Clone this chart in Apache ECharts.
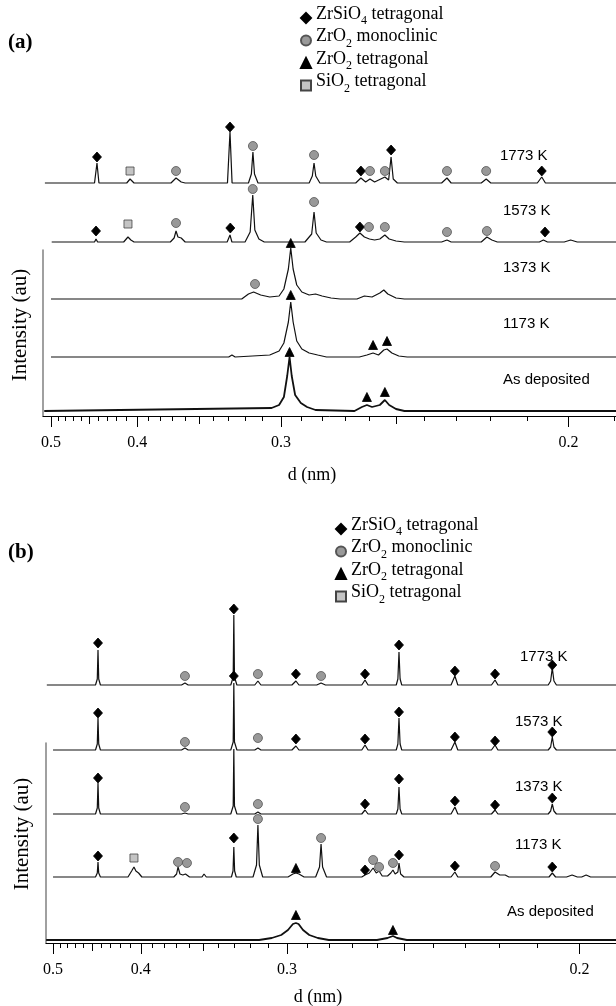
<!DOCTYPE html>
<html>
<head>
<meta charset="utf-8">
<script src="https://cdn.jsdelivr.net/npm/echarts@6/dist/echarts.min.js"></script>
<style>
    html, body {margin:0;padding:0;background:#fff;}
    #chart {width:616px;height:1006px;}
</style>
</head>
<body>
<div id="chart"></div>
<script>
    // d (nm) ticks along the bottom axis
    var majorTicksD = [0.5, 0.4, 0.3, 0.2];
    var mediumTicksD = [0.45, 0.35, 0.25];
    var minorTicksD = [0.49, 0.48, 0.47, 0.46, 0.44, 0.43, 0.42, 0.41,
        0.39, 0.38, 0.37, 0.36, 0.34, 0.33, 0.32, 0.31,
        0.29, 0.28, 0.27, 0.26, 0.24, 0.23, 0.22, 0.21, 0.19];

    var traceNames = ['1773 K', '1573 K', '1373 K', '1173 K', 'As deposited'];
    var phaseNames = ['ZrSiO4 tetragonal', 'ZrO2 monoclinic', 'ZrO2 tetragonal', 'SiO2 tetragonal'];

    // stacking offsets of each pattern (au)
    var offsetsA = [233, 174, 117, 59, 5];
    var offsetsB = [258, 193, 129, 66, 3];

    // ---- panel (a): [d nm, intensity au] ----
    var a1773 = [[0.509,0],[0.4440,0],[0.4412,20],[0.4390,0],
        [0.4100,0],[0.4068,4],[0.4030,0],
        [0.3710,0],[0.3670,5],[0.3630,1],[0.3600,0],
        [0.3308,0],[0.3292,51],[0.3279,0],
        [0.3180,0],[0.3163,9],[0.3154,31],[0.3145,9],[0.3125,0],
        [0.2860,0],[0.2845,7],[0.2837,20],[0.2829,7],[0.2810,0],
        [0.2655,0],[0.2634,5],[0.2615,1],[0.2598,4],[0.2580,1],[0.2541,6],[0.2527,3],[0.2518,26],[0.2510,4],[0.2495,0],
        [0.2345,0],[0.2328,5],[0.2315,0],
        [0.2225,0],[0.2211,4],[0.2198,0],
        [0.2075,0],[0.2064,6],[0.2055,0],
        [0.185,0]];
    var a1573 = [[0.499,0],[0.4440,0],[0.4423,3],[0.4405,0],
        [0.4130,0],[0.4088,5],[0.4060,2],[0.4030,0],
        [0.3715,0],[0.3685,4],[0.3670,11],[0.3655,5],[0.3630,4],[0.3600,0],
        [0.3310,0],[0.3292,7],[0.3280,0],
        [0.3200,0],[0.3170,10],[0.3155,47],[0.3143,12],[0.3120,3],[0.3090,0],
        [0.2880,0],[0.2848,8],[0.2837,30],[0.2827,9],[0.2805,2],[0.2780,0],
        [0.2680,0],[0.2655,5],[0.2638,9],[0.2620,5],[0.2600,3],[0.2580,2],[0.2560,3],[0.2541,7],[0.2525,3],[0.2500,1],[0.2470,0],
        [0.2345,0],[0.2328,2],[0.2315,0],
        [0.2225,0],[0.2209,5],[0.2195,2],[0.2180,0],
        [0.2070,0],[0.2060,2],[0.2050,0],
        [0.2010,0],[0.1995,2],[0.1980,0],
        [0.185,0]];
    var a1373 = [[0.500,0],
        [0.3220,0],[0.3180,5],[0.3150,7],[0.3110,4],[0.3060,2],
        [0.3010,3],[0.2985,10],[0.2962,30],[0.2950,51],[0.2938,30],[0.2920,14],[0.2895,7],[0.2860,4],[0.2830,5],[0.2800,3],[0.2760,1],[0.2720,0],
        [0.2650,0],[0.2620,3],[0.2590,2],[0.2560,6],[0.2545,9],[0.2530,5],[0.2500,1],[0.2470,0],
        [0.185,0]];
    var a1173 = [[0.500,0],
        [0.3300,0],[0.3280,2],[0.3260,0],
        [0.3060,2],[0.3010,6],[0.2985,14],[0.2962,35],[0.2950,55],[0.2938,35],[0.2920,16],[0.2895,8],[0.2860,4],[0.2820,2],[0.2780,0],
        [0.2640,0],[0.2610,2],[0.2586,4],[0.2565,2],[0.2545,7],[0.2533,8],[0.2515,4],[0.2490,1],[0.2460,0],
        [0.185,0]];
    var aDep = [[0.510,0],
        [0.3050,3],[0.3010,6],[0.2985,14],[0.2968,35],[0.2956,54],[0.2945,35],[0.2928,16],[0.2900,8],[0.2870,4],[0.2830,1],
        [0.2660,0],[0.2630,4],[0.2610,6],[0.2590,4],[0.2560,6],[0.2541,11],[0.2525,6],[0.2500,2],[0.2470,0],
        [0.185,0]];

    // phase markers: [d, pattern index, height above that pattern's baseline]
    var aDiamonds = [[0.4412,0,26],[0.3292,0,56],[0.2634,0,12],[0.2518,0,33],[0.2064,0,12],
        [0.4423,1,11],[0.3290,1,14],[0.2638,1,15],[0.2056,1,10]];
    var aCircles = [[0.3670,0,12],[0.3154,0,37],[0.2837,0,28],[0.2598,0,12],[0.2541,0,12],[0.2328,0,12],[0.2211,0,12],
        [0.3670,1,19],[0.3155,1,53],[0.2837,1,40],[0.2602,1,15],[0.2541,1,15],[0.2328,1,10],[0.2209,1,11],
        [0.3142,2,15]];
    var aTriangles = [[0.2950,2,56],[0.2950,3,62],[0.2586,3,12],[0.2533,3,16],[0.2956,4,59],[0.2610,4,14],[0.2541,4,19]];
    var aSquares = [[0.4068,0,12],[0.4088,1,18]];

    // ---- panel (b) ----
    var b1773 = [[0.509,0],[0.4460,0],[0.4440,6],[0.4432,35],[0.4424,6],[0.4405,0],
        [0.3660,0],[0.3634,2],[0.3610,0],
        [0.3319,0],[0.3304,8],[0.3300,70],[0.3296,8],[0.3281,0],
        [0.3175,0],[0.3157,4],[0.3140,0],
        [0.2975,0],[0.2955,4],[0.2940,0],
        [0.2855,0],[0.2835,2],[0.2815,0],
        [0.2660,0],[0.2647,5],[0.2635,0],
        [0.2528,0],[0.2522,6],[0.2518,33],[0.2514,6],[0.2508,0],
        [0.2343,0],[0.2331,9],[0.2322,0],
        [0.2223,0],[0.2213,5],[0.2205,0],
        [0.2074,0],[0.2068,4],[0.2064,17],[0.2060,4],[0.2054,0],
        [0.185,0]];
    var b1573 = [[0.500,0],[0.4460,0],[0.4440,6],[0.4432,32],[0.4424,6],[0.4405,0],
        [0.3660,0],[0.3634,2],[0.3610,0],
        [0.3319,0],[0.3304,8],[0.3300,67],[0.3296,8],[0.3281,0],
        [0.3175,0],[0.3157,2],[0.3140,0],
        [0.2975,0],[0.2955,4],[0.2940,0],
        [0.2660,0],[0.2647,5],[0.2635,0],
        [0.2528,0],[0.2522,6],[0.2518,32],[0.2514,6],[0.2508,0],
        [0.2343,0],[0.2331,8],[0.2322,0],
        [0.2223,0],[0.2213,5],[0.2205,0],
        [0.2074,0],[0.2068,3],[0.2064,13],[0.2060,3],[0.2054,0],
        [0.185,0]];
    var b1373 = [[0.500,0],[0.4460,0],[0.4440,6],[0.4432,31],[0.4424,6],[0.4405,0],
        [0.3660,0],[0.3634,1],[0.3610,0],
        [0.3319,0],[0.3304,8],[0.3300,65],[0.3296,8],[0.3281,0],
        [0.3175,0],[0.3157,2],[0.3140,0],
        [0.2660,0],[0.2647,4],[0.2635,0],
        [0.2528,0],[0.2522,5],[0.2518,27],[0.2514,5],[0.2508,0],
        [0.2343,0],[0.2331,7],[0.2322,0],
        [0.2223,0],[0.2213,4],[0.2205,0],
        [0.2074,0],[0.2068,3],[0.2064,10],[0.2060,3],[0.2054,0],
        [0.185,0]];
    var b1173 = [[0.500,0],[0.4460,0],[0.4440,4],[0.4432,15],[0.4424,4],[0.4405,0],
        [0.4120,0],[0.4085,6],[0.4063,10],[0.4045,6],[0.4020,4],[0.3990,0],
        [0.3720,0],[0.3698,3],[0.3687,10],[0.3672,3],[0.3650,2],[0.3630,3],[0.3619,5],[0.3600,0],
        [0.3510,0],[0.3496,3],[0.3480,0],
        [0.3315,0],[0.3305,6],[0.3300,30],[0.3295,6],[0.3285,0],
        [0.3185,0],[0.3165,12],[0.3157,52],[0.3149,12],[0.3130,0],
        [0.2995,0],[0.2970,3],[0.2955,4],[0.2940,3],[0.2915,0],
        [0.2860,0],[0.2842,10],[0.2835,33],[0.2828,10],[0.2810,0],
        [0.2660,0],[0.2647,2],[0.2630,4],[0.2615,9],[0.2603,4],[0.2592,6],[0.2580,1],[0.2560,1],[0.2548,4],[0.2540,7],[0.2532,3],[0.2522,5],[0.2518,14],[0.2512,3],[0.2500,0],
        [0.2343,0],[0.2331,5],[0.2322,0],
        [0.2225,0],[0.2213,5],[0.2200,2],[0.2185,2],[0.2175,0],
        [0.2072,0],[0.2064,4],[0.2056,0],
        [0.2030,0],[0.2017,2],[0.2005,0],[0.1995,0],[0.1985,2],[0.1975,0],
        [0.185,0]];
    var bDep = [[0.510,0],
        [0.3150,0],[0.3080,2],[0.3030,5],[0.2995,10],[0.2970,16],[0.2955,17],[0.2942,16],[0.2920,10],[0.2890,5],[0.2850,2],[0.2800,0],
        [0.2600,0],[0.2560,2],[0.2540,4],[0.2525,2],[0.2490,0],
        [0.185,0]];

    var bDiamonds = [[0.4432,0,42],[0.3300,0,76],[0.2955,0,11],[0.2647,0,11],[0.2518,0,40],[0.2331,0,14],[0.2213,0,11],[0.2064,0,20],
        [0.4432,1,37],[0.3300,1,74],[0.2955,1,11],[0.2647,1,11],[0.2518,1,38],[0.2331,1,13],[0.2213,1,9],[0.2064,1,18],
        [0.4432,2,36],[0.2647,2,10],[0.2518,2,35],[0.2331,2,13],[0.2213,2,9],[0.2064,2,16],
        [0.4432,3,21],[0.3300,3,39],[0.2647,3,7],[0.2518,3,22],[0.2331,3,11],[0.2064,3,10]];
    var bCircles = [[0.3634,0,9],[0.3157,0,11],[0.2835,0,9],
        [0.3634,1,8],[0.3157,1,12],
        [0.3634,2,7],[0.3157,2,10],
        [0.3687,3,15],[0.3619,3,14],[0.3157,3,58],[0.2835,3,39],[0.2615,3,17],[0.2592,3,10],[0.2540,3,14],[0.2213,3,11]];
    var bTriangles = [[0.2955,3,9],[0.2955,4,25],[0.2540,4,10]];
    var bSquares = [[0.4063,3,19]];

    var serif = 'Liberation Serif';

    var phaseStyles = [
        {symbol: 'diamond', size: [9, 10], color: '#000', border: '#000'},
        {symbol: 'circle', size: 9, color: '#999', border: '#555'},
        {symbol: 'triangle', size: 9, color: '#000', border: '#000'},
        {symbol: 'rect', size: 8, color: '#c4c4c4', border: '#444'}
    ];
    var lineWidths = [1.2, 1.2, 1.2, 1.2, 1.8];

    function inv(v) { return 1 / v; }

    function xAxes(g, min, max) {
        var base = {type: 'value', gridIndex: g, min: min, max: max, position: 'bottom',
            splitLine: {show: false}};
        return [
            Object.assign({}, base, {
                axisLine: {show: true, onZero: false, lineStyle: {color: '#000', width: 1}},
                axisTick: {show: true, customValues: majorTicksD.map(inv), length: 11, lineStyle: {color: '#000'}},
                axisLabel: {show: true, customValues: majorTicksD.map(inv), margin: 19,
                    formatter: function (v) { return (1 / v).toFixed(1); },
                    fontFamily: serif, fontSize: 16, color: '#000'}
            }),
            Object.assign({}, base, {
                axisLine: {show: false},
                axisTick: {show: true, customValues: mediumTicksD.map(inv), length: 8, lineStyle: {color: '#000'}},
                axisLabel: {show: false, customValues: mediumTicksD.map(inv)}
            }),
            Object.assign({}, base, {
                axisLine: {show: false},
                axisTick: {show: true, customValues: minorTicksD.map(inv), length: 5, lineStyle: {color: '#000'}},
                axisLabel: {show: false, customValues: minorTicksD.map(inv)}
            })
        ];
    }

    function yAxis(g, max) {
        return {type: 'value', gridIndex: g, min: 0, max: max,
            axisLine: {show: true, onZero: false, lineStyle: {color: '#808080', width: 1.5}},
            axisTick: {show: false}, axisLabel: {show: false}, splitLine: {show: false}};
    }

    function traceSeries(traces, offsets, g) {
        return traces.map(function (t, i) {
            return {
                type: 'line', name: traceNames[i] + g, xAxisIndex: g * 3, yAxisIndex: g,
                data: t.map(function (p) { return [1 / p[0], p[1] + offsets[i]]; }),
                showSymbol: false, clip: false, silent: true,
                lineStyle: {color: '#111', width: lineWidths[i]}
            };
        });
    }

    function markerSeries(sets, offsets, g) {
        return sets.map(function (set, k) {
            var st = phaseStyles[k];
            return {
                type: 'scatter', name: phaseNames[k], xAxisIndex: g * 3, yAxisIndex: g,
                symbol: st.symbol, symbolSize: st.size, clip: false, z: 5,
                itemStyle: {color: st.color, borderColor: st.border, borderWidth: 0.8, opacity: 1},
                data: set.map(function (m) { return [1 / m[0], offsets[m[1]] + m[2]]; })
            };
        });
    }

    // legend labels with subscripts
    var richNames = {
        'ZrSiO4 tetragonal': '{n|ZrSiO}{s|4}{n| tetragonal}',
        'ZrO2 monoclinic': '{n|ZrO}{s|2}{n| monoclinic}',
        'ZrO2 tetragonal': '{n|ZrO}{s|2}{n| tetragonal}',
        'SiO2 tetragonal': '{n|SiO}{s|2}{n| tetragonal}'
    };

    function legend(left, top) {
        return {
            orient: 'vertical', left: left, top: top, padding: 0,
            itemWidth: 10, itemHeight: 10, itemGap: -9.5,
            selectedMode: false,
            data: phaseNames.map(function (n, k) { return {name: n, icon: phaseStyles[k].symbol}; }),
            formatter: function (n) { return richNames[n]; },
            textStyle: {fontFamily: serif, fontSize: 18, color: '#000',
                rich: {
                    n: {fontFamily: serif, fontSize: 18, color: '#000', lineHeight: 18, verticalAlign: 'bottom', padding: [10, 0, 4, 0]},
                    s: {fontFamily: serif, fontSize: 12, color: '#000', lineHeight: 18, verticalAlign: 'bottom'}
                }}
        };
    }

    function text(str, x, y, font, opts) {
        return Object.assign({type: 'text', x: x, y: y,
            style: {text: str, font: font, fill: '#000', align: 'left', verticalAlign: 'middle'}}, opts || {});
    }

    var tempLabelsA = [[500, 156], [503, 211], [503, 268], [503, 324], [503, 380]];
    var tempLabelsB = [[520, 657], [515, 722], [515, 787], [515, 845], [507, 912]];

    var graphics = [];
    graphics.push(text('(a)', 8, 43, 'bold 21px "Liberation Serif"'));
    graphics.push(text('(b)', 8, 553, 'bold 21px "Liberation Serif"'));
    tempLabelsA.forEach(function (p, i) { graphics.push(text(traceNames[i], p[0], p[1], '15px "Liberation Sans"', {z: 10})); });
    tempLabelsB.forEach(function (p, i) { graphics.push(text(traceNames[i], p[0], p[1], '15px "Liberation Sans"', {z: 10})); });
    graphics.push({type: 'text', x: 20, y: 325, rotation: Math.PI / 2,
        style: {text: 'Intensity (au)', font: '21px "Liberation Serif"', fill: '#000', align: 'center', verticalAlign: 'middle'}});
    graphics.push({type: 'text', x: 22, y: 834, rotation: Math.PI / 2,
        style: {text: 'Intensity (au)', font: '21px "Liberation Serif"', fill: '#000', align: 'center', verticalAlign: 'middle'}});
    graphics.push({type: 'text', x: 312, y: 475,
        style: {text: 'd (nm)', font: '18px "Liberation Serif"', fill: '#000', align: 'center', verticalAlign: 'middle'}});
    graphics.push({type: 'text', x: 318, y: 997,
        style: {text: 'd (nm)', font: '18px "Liberation Serif"', fill: '#000', align: 'center', verticalAlign: 'middle'}});

    var chart = echarts.init(document.getElementById('chart'), null, {renderer: 'canvas'});
    var option = {
        animation: false,
        backgroundColor: '#fff',
        grid: [
            {left: 43, right: 0, top: 250, bottom: 590},
            {left: 46, right: 0, top: 743, bottom: 63}
        ],
        xAxis: xAxes(0, 1.9536, 5.2754).concat(xAxes(1, 1.960, 5.208)),
        yAxis: [yAxis(0, 166), yAxis(1, 200)],
        legend: [legend(300, -5), legend(335, 506)],
        graphic: graphics,
        series: []
            .concat(traceSeries([a1773, a1573, a1373, a1173, aDep], offsetsA, 0))
            .concat(traceSeries([b1773, b1573, b1373, b1173, bDep], offsetsB, 1))
            .concat(markerSeries([aDiamonds, aCircles, aTriangles, aSquares], offsetsA, 0))
            .concat(markerSeries([bDiamonds, bCircles, bTriangles, bSquares], offsetsB, 1))
    };
    chart.setOption(option);
</script>
</body>
</html>
